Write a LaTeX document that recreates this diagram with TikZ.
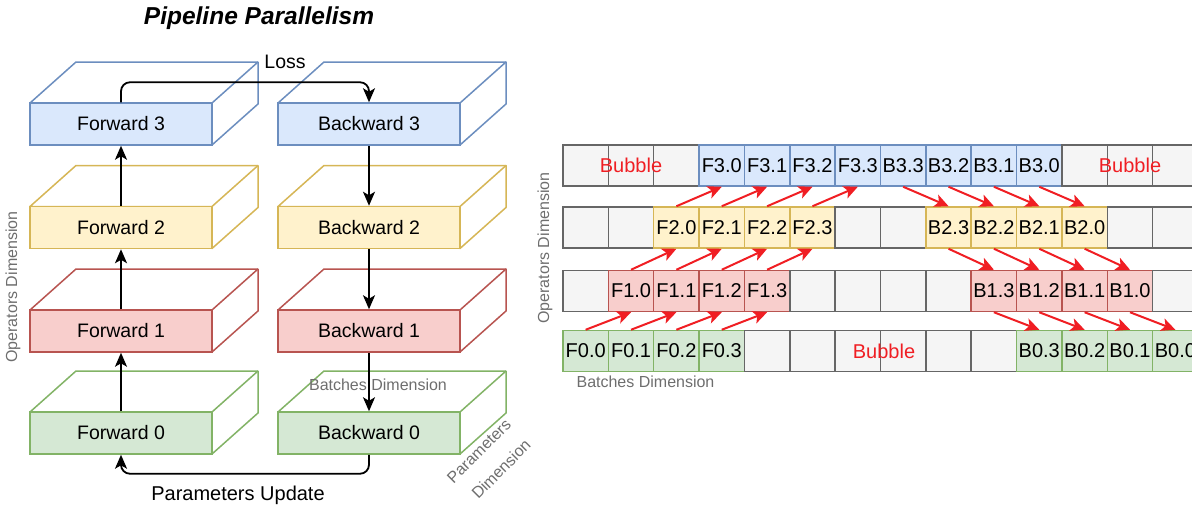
\documentclass[tikz,border=0pt]{standalone}
\usepackage{fontspec}
\setmainfont{Liberation Sans}
\usetikzlibrary{arrows.meta}
\definecolor{bfill}{HTML}{DAE8FC}\definecolor{bline}{HTML}{6C8EBF}
\definecolor{yfill}{HTML}{FFF2CC}\definecolor{yline}{HTML}{D6B656}
\definecolor{rfill}{HTML}{F8CECC}\definecolor{rline}{HTML}{B85450}
\definecolor{gfill}{HTML}{D5E8D4}\definecolor{gline}{HTML}{82B366}
\definecolor{nfill}{HTML}{F5F5F5}\definecolor{nline}{HTML}{666666}
\definecolor{arrred}{RGB}{240,30,35}
\definecolor{dimtext}{HTML}{6E6E6E}
\newcommand\cubebox[6]{%
  \draw[line width=1.5pt, draw=#3, fill=white, line join=round]
    (#1-91,#2-21) -- ++(46,-41) -- ++(182,0) -- ++(0,42) -- ++(-46,41) -- (#1+91,#2-21) -- cycle;
  \draw[line width=1.5pt, draw=#3] (#1+91,#2-21) -- ++(46,-41);
  \node[front, draw=#3, fill=#4] (#5) at (#1,#2) {#6};
}
\begin{document}
\begin{tikzpicture}[x=1pt,y=-1pt,
  front/.style={rectangle, line width=1.5pt, minimum width=182pt, minimum height=42pt, inner sep=0pt, font=\fontsize{19.5}{23}\selectfont},
  cell/.style={rectangle, draw, line width=1.5pt, minimum width=45.36pt, minimum height=41pt, inner sep=0pt, font=\fontsize{20}{23}\selectfont},
  ncell/.style={cell, draw=nline, fill=nfill},
  bcell/.style={cell, draw=bline, fill=bfill},
  ycell/.style={cell, draw=yline, fill=yfill},
  rcell/.style={cell, draw=rline, fill=rfill},
  gcell/.style={cell, draw=gline, fill=gfill},
  blackarrow/.style={line width=1.8pt, -{Stealth[length=14pt, width=12pt, inset=3.5pt]}},
  redarrow/.style={line width=2pt, draw=arrred, -{Stealth[length=14pt, width=13pt, inset=3.5pt]}, fill=arrred},
  dimlabel/.style={text=dimtext, font=\fontsize{16}{19}\selectfont, inner sep=0pt},
  bubble/.style={text=arrred, font=\fontsize{20}{24}\selectfont, inner sep=0pt},
  plain/.style={font=\fontsize{19.5}{23}\selectfont, inner sep=0pt}
]
\useasboundingbox (0,0) rectangle (1192,509);
\clip (0,0) rectangle (1192,509);

% ---------- left: title ----------
\node[font=\fontsize{24.5}{28}\selectfont\bfseries\itshape, inner sep=0pt] (title) at (259,18) {Pipeline Parallelism};

% ---------- left: cubes ----------
\cubebox{121}{433}{gline}{gfill}{f0}{Forward 0}
\cubebox{369}{433}{gline}{gfill}{b0}{Backward 0}
\cubebox{121}{331}{rline}{rfill}{f1}{Forward 1}
\cubebox{369}{331}{rline}{rfill}{b1}{Backward 1}
\cubebox{121}{227.5}{yline}{yfill}{f2}{Forward 2}
\cubebox{369}{227.5}{yline}{yfill}{b2}{Backward 2}
\cubebox{121}{124}{bline}{bfill}{f3}{Forward 3}
\cubebox{369}{124}{bline}{bfill}{b3}{Backward 3}

\node[dimlabel] (batL) at (378,385) {Batches Dimension};
\node[dimlabel, rotate=90] (opL) at (13,287) {Operators Dimension};
\node[dimlabel, rotate=45] (parL) at (479,451) {Parameters};
\node[dimlabel, rotate=45] (dimL) at (501,469) {Dimension};

\draw[blackarrow] (f0.north) -- (f1.south);
\draw[blackarrow] (f1.north) -- (f2.south);
\draw[blackarrow] (f2.north) -- (f3.south);
\draw[blackarrow] (b3.south) -- (b2.north);
\draw[blackarrow] (b2.south) -- (b1.north);
\draw[blackarrow] (b1.south) -- (b0.north);
\draw[blackarrow, rounded corners=9pt] (f3.north) -- ++(0,-20) -| (b3.north);
\draw[blackarrow, rounded corners=9pt] (b0.south) -- ++(0,19) -| (f0.south);
\node[plain] (loss) at (285,62) {Loss};
\node[plain, font=\fontsize{20}{24}\selectfont] (upd) at (238,495) {Parameters Update};

% ---------- right: grid ----------
\foreach \c/\t/\s in {0/{}/ncell,1/{}/ncell,2/{}/ncell,3/F3.0/bcell,4/F3.1/bcell,5/F3.2/bcell,6/F3.3/bcell,7/B3.3/bcell,8/B3.2/bcell,9/B3.1/bcell,10/B3.0/bcell,11/{}/ncell,12/{}/ncell,13/{}/ncell}
  \node[\s] (c3-\c) at ({563+45.36*(\c+0.5)},165.5) {\t};
\foreach \c/\t/\s in {0/{}/ncell,1/{}/ncell,2/F2.0/ycell,3/F2.1/ycell,4/F2.2/ycell,5/F2.3/ycell,6/{}/ncell,7/{}/ncell,8/B2.3/ycell,9/B2.2/ycell,10/B2.1/ycell,11/B2.0/ycell,12/{}/ncell,13/{}/ncell}
  \node[\s] (c2-\c) at ({563+45.36*(\c+0.5)},227.5) {\t};
\foreach \c/\t/\s in {0/{}/ncell,1/F1.0/rcell,2/F1.1/rcell,3/F1.2/rcell,4/F1.3/rcell,5/{}/ncell,6/{}/ncell,7/{}/ncell,8/{}/ncell,9/B1.3/rcell,10/B1.2/rcell,11/B1.1/rcell,12/B1.0/rcell,13/{}/ncell}
  \node[\s] (c1-\c) at ({563+45.36*(\c+0.5)},291) {\t};
\foreach \c/\t/\s in {0/F0.0/gcell,1/F0.1/gcell,2/F0.2/gcell,3/F0.3/gcell,4/{}/ncell,5/{}/ncell,6/{}/ncell,7/{}/ncell,8/{}/ncell,9/{}/ncell,10/B0.3/gcell,11/B0.2/gcell,12/B0.1/gcell,13/B0.0/gcell}
  \node[\s] (c0-\c) at ({563+45.36*(\c+0.5)},351) {\t};

\node[bubble] (bub1) at (631,165.5) {Bubble};
\node[bubble] (bub2) at (1130,165.5) {Bubble};
\node[bubble] (bub3) at (884,351) {Bubble};

\node[dimlabel] (batR) at (645.5,382) {Batches Dimension};
\node[dimlabel, rotate=90] (opR) at (545,248) {Operators Dimension};

\foreach \j [evaluate=\j as \a using int(\j+1), evaluate=\j as \b using int(\j+2), evaluate=\j as \d using int(\j+3)] in {0,...,3} {
  \draw[redarrow] (c0-\j.north) -- (c1-\a.south);
  \draw[redarrow] (c1-\a.north) -- (c2-\b.south);
  \draw[redarrow] (c2-\b.north) -- (c3-\d.south);
}
\foreach \k [evaluate=\k as \a using int(\k+1), evaluate=\k as \b using int(\k+2), evaluate=\k as \d using int(\k+3)] in {7,...,10} {
  \draw[redarrow] (c3-\k.south) -- (c2-\a.north);
  \draw[redarrow] (c2-\a.south) -- (c1-\b.north);
  \draw[redarrow] (c1-\b.south) -- (c0-\d.north);
}
\end{tikzpicture}
\end{document}
